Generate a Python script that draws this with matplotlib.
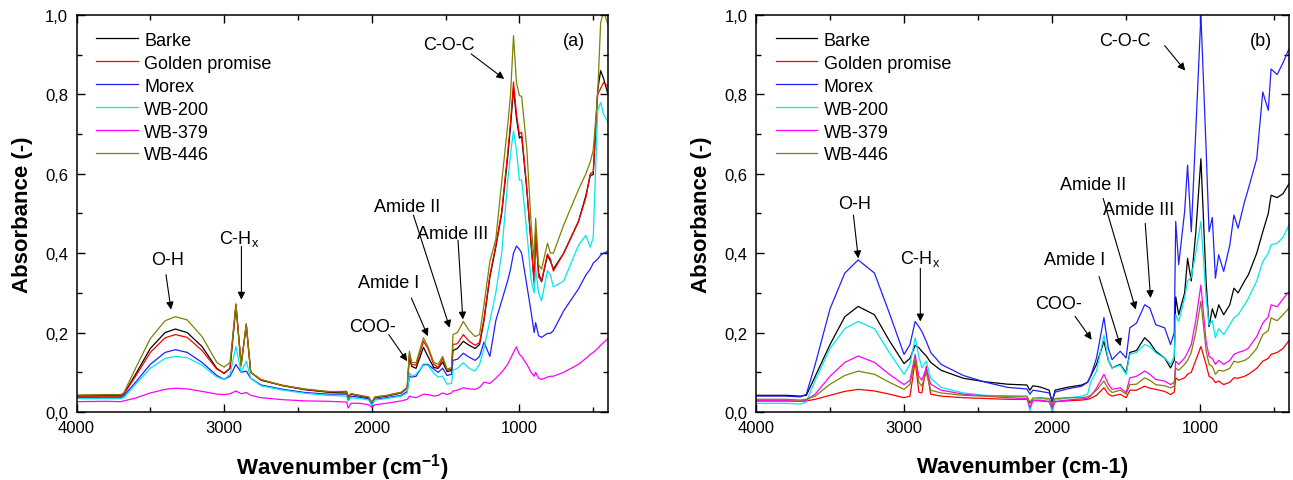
import matplotlib
matplotlib.use("Agg")
import matplotlib.pyplot as plt
from matplotlib.ticker import MultipleLocator, FuncFormatter

plt.rcParams["font.family"] = ["Liberation Sans", "DejaVu Sans"]
plt.rcParams["mathtext.fontset"] = "custom"
plt.rcParams["mathtext.rm"] = "Liberation Sans"
plt.rcParams["mathtext.bf"] = "Liberation Sans:bold"

names = ["Barke", "Golden promise", "Morex", "WB-200", "WB-379", "WB-446"]
colors = ["#000000", "#ff0000", "#2020ff", "#00e8f0", "#ff00ff", "#808000"]

# ---- panel (a) ----
wn_a = [4000, 3800, 3700, 3680, 3600, 3500, 3400, 3330, 3250, 3150,
        3050, 3000, 2960, 2920, 2885, 2850, 2820, 2750, 2600, 2450,
        2300, 2170, 2160, 2140, 2080, 2020, 2000, 1980, 1900, 1800,
        1760, 1745, 1730, 1700, 1650, 1620, 1580, 1550, 1520, 1490,
        1460, 1450, 1420, 1380, 1340, 1300, 1270, 1240, 1200, 1160,
        1120, 1080, 1060, 1040, 1020, 1000, 985, 950, 920, 900,
        890, 870, 850, 810, 790, 770, 700, 600, 550, 520,
        500, 470, 450, 430, 400]

barke_a = [0.040, 0.041, 0.041, 0.045, 0.095, 0.160, 0.200, 0.209, 0.200, 0.165,
           0.110, 0.097, 0.110, 0.268, 0.120, 0.218, 0.100, 0.080, 0.066, 0.056,
           0.050, 0.048, 0.035, 0.045, 0.040, 0.036, 0.020, 0.036, 0.040, 0.048,
           0.060, 0.140, 0.115, 0.110, 0.163, 0.140, 0.112, 0.110, 0.126, 0.102,
           0.104, 0.155, 0.160, 0.178, 0.168, 0.160, 0.170, 0.230, 0.340, 0.415,
           0.500, 0.640, 0.720, 0.815, 0.740, 0.690, 0.695, 0.560, 0.420, 0.330,
           0.455, 0.350, 0.328, 0.395, 0.380, 0.360, 0.400, 0.480, 0.545, 0.596,
           0.598, 0.810, 0.860, 0.840, 0.800]
golden_a = [0.040, 0.040, 0.040, 0.044, 0.090, 0.150, 0.187, 0.195, 0.188, 0.155,
            0.108, 0.098, 0.110, 0.272, 0.118, 0.222, 0.100, 0.081, 0.067, 0.057,
            0.051, 0.052, 0.040, 0.046, 0.041, 0.037, 0.022, 0.037, 0.041, 0.049,
            0.062, 0.148, 0.120, 0.118, 0.178, 0.160, 0.120, 0.112, 0.135, 0.105,
            0.108, 0.170, 0.172, 0.195, 0.178, 0.168, 0.175, 0.235, 0.345, 0.420,
            0.505, 0.650, 0.730, 0.831, 0.750, 0.700, 0.705, 0.565, 0.420, 0.320,
            0.460, 0.340, 0.330, 0.398, 0.385, 0.355, 0.400, 0.480, 0.540, 0.600,
            0.605, 0.800, 0.815, 0.830, 0.820]
morex_a = [0.036, 0.036, 0.036, 0.040, 0.075, 0.120, 0.150, 0.157, 0.150, 0.125,
           0.092, 0.082, 0.090, 0.120, 0.100, 0.103, 0.085, 0.068, 0.057, 0.049,
           0.045, 0.045, 0.033, 0.040, 0.037, 0.033, 0.020, 0.032, 0.036, 0.042,
           0.052, 0.090, 0.088, 0.090, 0.120, 0.120, 0.108, 0.100, 0.110, 0.092,
           0.095, 0.130, 0.133, 0.148, 0.138, 0.130, 0.140, 0.176, 0.140, 0.230,
           0.280, 0.330, 0.360, 0.400, 0.418, 0.410, 0.400, 0.320, 0.250, 0.200,
           0.225, 0.192, 0.188, 0.198, 0.198, 0.205, 0.255, 0.310, 0.345, 0.360,
           0.375, 0.385, 0.395, 0.400, 0.405]
wb200_a = [0.034, 0.034, 0.034, 0.036, 0.070, 0.110, 0.135, 0.140, 0.137, 0.118,
           0.088, 0.082, 0.095, 0.165, 0.100, 0.128, 0.085, 0.066, 0.055, 0.047,
           0.042, 0.040, 0.028, 0.036, 0.034, 0.030, 0.016, 0.030, 0.034, 0.040,
           0.048, 0.099, 0.090, 0.095, 0.118, 0.118, 0.098, 0.088, 0.090, 0.070,
           0.072, 0.105, 0.110, 0.124, 0.110, 0.103, 0.120, 0.160, 0.230, 0.300,
           0.400, 0.580, 0.650, 0.708, 0.660, 0.584, 0.585, 0.454, 0.330, 0.300,
           0.360, 0.300, 0.280, 0.356, 0.345, 0.315, 0.330, 0.420, 0.445, 0.415,
           0.440, 0.760, 0.780, 0.750, 0.730]
wb379_a = [0.026, 0.027, 0.026, 0.028, 0.035, 0.048, 0.057, 0.060, 0.058, 0.052,
           0.045, 0.044, 0.046, 0.053, 0.046, 0.049, 0.042, 0.036, 0.031, 0.028,
           0.027, 0.025, 0.010, 0.022, 0.022, 0.018, 0.012, 0.018, 0.022, 0.028,
           0.032, 0.040, 0.038, 0.036, 0.045, 0.044, 0.040, 0.042, 0.048, 0.044,
           0.048, 0.053, 0.055, 0.061, 0.058, 0.057, 0.062, 0.075, 0.072, 0.085,
           0.100, 0.120, 0.135, 0.150, 0.164, 0.145, 0.140, 0.120, 0.100, 0.090,
           0.100, 0.085, 0.082, 0.088, 0.090, 0.090, 0.100, 0.120, 0.135, 0.145,
           0.150, 0.160, 0.168, 0.175, 0.185]
wb446_a = [0.043, 0.044, 0.044, 0.048, 0.110, 0.185, 0.230, 0.240, 0.232, 0.190,
           0.125, 0.113, 0.125, 0.272, 0.115, 0.222, 0.100, 0.082, 0.066, 0.058,
           0.052, 0.050, 0.030, 0.046, 0.042, 0.038, 0.025, 0.038, 0.042, 0.050,
           0.062, 0.153, 0.125, 0.124, 0.187, 0.165, 0.125, 0.120, 0.140, 0.108,
           0.112, 0.195, 0.200, 0.228, 0.205, 0.190, 0.195, 0.270, 0.380, 0.435,
           0.580, 0.720, 0.800, 0.948, 0.830, 0.797, 0.795, 0.664, 0.470, 0.380,
           0.488, 0.370, 0.360, 0.425, 0.400, 0.400, 0.471, 0.560, 0.600, 0.630,
           0.660, 0.800, 0.980, 1.010, 0.975]

# ---- panel (b) ----
wn_b = [4000, 3800, 3700, 3660, 3600, 3500, 3400, 3310, 3200, 3100,
        3000, 2960, 2925, 2900, 2880, 2850, 2820, 2750, 2600, 2450,
        2300, 2170, 2150, 2130, 2080, 2020, 2000, 1980, 1900, 1800,
        1760, 1740, 1700, 1650, 1620, 1595, 1540, 1500, 1475, 1430,
        1375, 1340, 1300, 1240, 1200, 1175, 1165, 1145, 1105, 1085,
        1060, 1030, 995, 960, 940, 918, 897, 875, 841, 800,
        772, 744, 700, 674, 618, 577, 540, 521, 480, 440,
        400]

barke_b = [0.042, 0.042, 0.040, 0.042, 0.090, 0.170, 0.240, 0.266, 0.245, 0.180,
           0.122, 0.135, 0.168, 0.162, 0.153, 0.141, 0.125, 0.105, 0.085, 0.076,
           0.070, 0.068, 0.055, 0.066, 0.063, 0.055, 0.025, 0.055, 0.062, 0.068,
           0.075, 0.090, 0.120, 0.178, 0.130, 0.111, 0.120, 0.099, 0.150, 0.155,
           0.187, 0.175, 0.153, 0.136, 0.111, 0.130, 0.290, 0.245, 0.300, 0.387,
           0.330, 0.450, 0.638, 0.330, 0.215, 0.260, 0.237, 0.270, 0.245, 0.270,
           0.312, 0.300, 0.330, 0.346, 0.400, 0.454, 0.500, 0.546, 0.540, 0.550,
           0.575]
golden_b = [0.028, 0.028, 0.027, 0.028, 0.032, 0.042, 0.052, 0.057, 0.053, 0.045,
            0.036, 0.040, 0.128, 0.050, 0.048, 0.115, 0.045, 0.040, 0.036, 0.034,
            0.032, 0.032, 0.022, 0.030, 0.028, 0.026, 0.012, 0.026, 0.028, 0.030,
            0.032, 0.034, 0.042, 0.061, 0.045, 0.040, 0.045, 0.036, 0.055, 0.055,
            0.065, 0.060, 0.057, 0.052, 0.044, 0.050, 0.086, 0.080, 0.086, 0.095,
            0.100, 0.130, 0.165, 0.120, 0.090, 0.085, 0.074, 0.078, 0.069, 0.075,
            0.086, 0.085, 0.090, 0.095, 0.110, 0.128, 0.135, 0.145, 0.150, 0.160,
            0.180]
morex_b = [0.040, 0.040, 0.038, 0.045, 0.120, 0.260, 0.350, 0.383, 0.350, 0.250,
           0.145, 0.170, 0.228, 0.215, 0.203, 0.178, 0.150, 0.120, 0.092, 0.075,
           0.062, 0.058, 0.045, 0.055, 0.052, 0.048, 0.028, 0.050, 0.058, 0.065,
           0.075, 0.090, 0.136, 0.238, 0.160, 0.132, 0.153, 0.136, 0.212, 0.224,
           0.270, 0.262, 0.220, 0.212, 0.170, 0.200, 0.480, 0.371, 0.505, 0.622,
           0.454, 0.705, 1.000, 0.664, 0.454, 0.490, 0.337, 0.396, 0.354, 0.420,
           0.496, 0.463, 0.530, 0.563, 0.638, 0.806, 0.760, 0.864, 0.850, 0.880,
           0.915]
wb200_b = [0.022, 0.022, 0.020, 0.025, 0.080, 0.160, 0.210, 0.228, 0.210, 0.150,
           0.095, 0.120, 0.187, 0.140, 0.111, 0.128, 0.085, 0.062, 0.048, 0.042,
           0.040, 0.038, 0.003, 0.030, 0.035, 0.030, 0.000, 0.030, 0.035, 0.040,
           0.045, 0.075, 0.103, 0.193, 0.130, 0.111, 0.118, 0.095, 0.145, 0.150,
           0.170, 0.165, 0.149, 0.136, 0.120, 0.140, 0.245, 0.228, 0.287, 0.330,
           0.340, 0.400, 0.480, 0.287, 0.220, 0.230, 0.187, 0.210, 0.195, 0.220,
           0.237, 0.245, 0.270, 0.287, 0.330, 0.379, 0.400, 0.421, 0.425, 0.440,
           0.471]
wb379_b = [0.028, 0.028, 0.027, 0.030, 0.045, 0.090, 0.125, 0.141, 0.125, 0.095,
           0.069, 0.080, 0.145, 0.090, 0.080, 0.110, 0.070, 0.055, 0.045, 0.040,
           0.036, 0.034, 0.011, 0.028, 0.030, 0.026, 0.010, 0.026, 0.030, 0.033,
           0.035, 0.040, 0.060, 0.095, 0.070, 0.057, 0.061, 0.049, 0.086, 0.090,
           0.103, 0.095, 0.082, 0.078, 0.069, 0.075, 0.128, 0.120, 0.136, 0.150,
           0.170, 0.230, 0.320, 0.178, 0.140, 0.135, 0.120, 0.130, 0.120, 0.130,
           0.145, 0.150, 0.155, 0.161, 0.190, 0.224, 0.240, 0.270, 0.265, 0.285,
           0.304]
wb446_b = [0.032, 0.032, 0.030, 0.032, 0.040, 0.070, 0.092, 0.103, 0.095, 0.075,
           0.057, 0.070, 0.136, 0.075, 0.065, 0.100, 0.055, 0.048, 0.042, 0.040,
           0.040, 0.040, 0.025, 0.035, 0.036, 0.034, 0.018, 0.034, 0.036, 0.036,
           0.038, 0.042, 0.055, 0.078, 0.058, 0.049, 0.055, 0.045, 0.069, 0.070,
           0.086, 0.080, 0.069, 0.066, 0.061, 0.065, 0.111, 0.105, 0.120, 0.130,
           0.150, 0.200, 0.279, 0.155, 0.120, 0.115, 0.095, 0.105, 0.103, 0.110,
           0.128, 0.125, 0.130, 0.136, 0.160, 0.195, 0.205, 0.237, 0.230, 0.245,
           0.262]

series_a = [barke_a, golden_a, morex_a, wb200_a, wb379_a, wb446_a]
series_b = [barke_b, golden_b, morex_b, wb200_b, wb379_b, wb446_b]

# band labels: (text, text position, arrow start, arrow tip) in data units
bands_a = [
    ("C-O-C", (1480, 0.925), (1327, 0.902), (1103, 0.839)),
    ("O-H", (3380, 0.383), (3394, 0.346), (3360, 0.258)),
    ("C-H$_\\mathregular{x}$", (2895, 0.438), (2883, 0.417), (2883, 0.283)),
    ("Amide I", (1885, 0.325), (1732, 0.287), (1620, 0.191)),
    ("Amide II", (1760, 0.517), (1718, 0.496), (1472, 0.212)),
    ("Amide III", (1453, 0.450), (1416, 0.433), (1383, 0.233)),
    ("COO-", (1997, 0.216), (1885, 0.195), (1760, 0.128)),
]
bands_b = [
    ("C-O-C", (1510, 0.936), (1240, 0.923), (1101, 0.860)),
    ("O-H", (3336, 0.526), (3342, 0.496), (3309, 0.387)),
    ("C-H$_\\mathregular{x}$", (2894, 0.387), (2890, 0.362), (2890, 0.228)),
    ("Amide I", (1845, 0.383), (1683, 0.341), (1538, 0.166)),
    ("Amide II", (1720, 0.572), (1655, 0.538), (1435, 0.258)),
    ("Amide III", (1413, 0.509), (1371, 0.475), (1335, 0.287)),
    ("COO-", (1957, 0.274), (1845, 0.241), (1733, 0.182)),
]

fig = plt.figure(figsize=(12.93, 4.81), dpi=100)
ax_a = fig.add_axes([76.5 / 1293, 68 / 481, 531.5 / 1293, 397 / 481])
ax_b = fig.add_axes([756 / 1293, 68 / 481, 533 / 1293, 397 / 481])

comma = FuncFormatter(lambda v, p: f"{v:.1f}".replace(".", ","))

for ax, wn, series, bands, tag, xlab in [
    (ax_a, wn_a, series_a, bands_a, "(a)", r"Wavenumber (cm$^{\mathbf{-1}}$)"),
    (ax_b, wn_b, series_b, bands_b, "(b)", "Wavenumber (cm-1)"),
]:
    for name, col, vals in zip(names, colors, series):
        ax.plot(wn, vals, color=col, lw=0.9, label=name)

    ax.set_xlim(4000, 400)
    ax.set_ylim(0, 1.0)
    ax.xaxis.set_major_locator(MultipleLocator(1000))
    ax.xaxis.set_minor_locator(MultipleLocator(500))
    ax.yaxis.set_major_locator(MultipleLocator(0.2))
    ax.yaxis.set_minor_locator(MultipleLocator(0.1))
    ax.yaxis.set_major_formatter(comma)
    ax.tick_params(which="both", direction="in", top=True, right=True,
                   labelsize=12, width=1.0)
    ax.tick_params(which="major", length=6, pad=6)
    ax.tick_params(which="minor", length=3.5)
    for sp in ax.spines.values():
        sp.set_linewidth(1.1)

    ax.set_ylabel("Absorbance (-)", fontsize=16, fontweight="bold", va="center")
    ax.yaxis.set_label_coords(-54 / 531.5, 0.5)
    ax.set_xlabel(xlab, fontsize=16, fontweight="bold", va="center")
    ax.xaxis.set_label_coords(0.5, -55 / 397)

    ax.text(628 if tag == "(a)" else 590, 0.936, tag, fontsize=13,
            ha="center", va="center")

    for text, tpos, start, tip in bands:
        ax.text(tpos[0], tpos[1], text, fontsize=13, ha="center", va="center")
        ax.annotate("", xy=tip, xytext=start,
                    arrowprops=dict(arrowstyle="-|>", color="black", lw=0.8,
                                    mutation_scale=11, shrinkA=0, shrinkB=0))

    ax.legend(loc="upper left", bbox_to_anchor=(0.037, 0.958), frameon=False,
              fontsize=13, handlelength=2.3, handletextpad=0.35,
              labelspacing=0.33, borderpad=0, borderaxespad=0)

fig.savefig("out.png", dpi=100)
